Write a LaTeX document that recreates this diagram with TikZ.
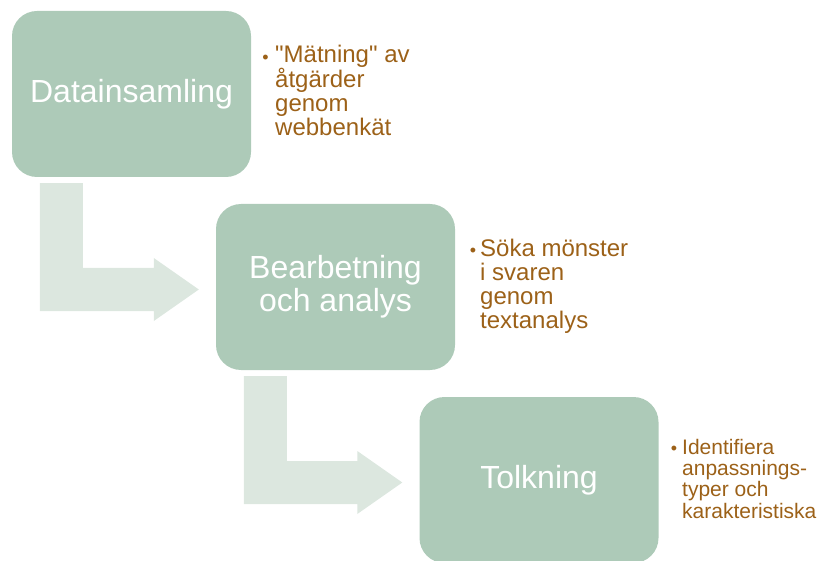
\documentclass[tikz,border=0pt]{standalone}
\usepackage{fontspec}
\setmainfont{Liberation Sans}[Ligatures=TeXOff]
\usetikzlibrary{calc}
\definecolor{boxgreen}{RGB}{173,202,184}
\definecolor{arrowgreen}{RGB}{220,231,223}
\definecolor{notebrown}{RGB}{156,97,24}
\tikzset{
	stage/.style={fill=boxgreen, rounded corners=25pt, minimum width=239pt, minimum height=166pt, inner sep=0pt, text=white, align=center, font=\fontsize{32}{33}\selectfont},
	flowarrow/.style={fill=arrowgreen},
	note/.style={text=notebrown, align=left, inner sep=0pt, anchor=base west, font=\fontsize{24}{24}\selectfont},
	dot/.style={text=notebrown, inner sep=0pt, anchor=base, font=\fontsize{18}{18}\selectfont}
}
\begin{document}
\begin{tikzpicture}[x=1pt,y=-1pt]
	\useasboundingbox (0,0) rectangle (819,561);
	\node[stage] (data) at (131.5,94) {Datainsamling};
	\node[stage] (bear) at (335.5,287) {Bearbetning\\och analys};
	\node[stage] (tolk) at (539,480) {Tolkning};
	\fill[flowarrow] ($(data.south west)+(28,6)$) coordinate (a1) -- ++(43,0) |- ($(bear.west)+(-62,-19)$) -- ++(0,-10) -- ($(bear.west)+(-17,2.5)$) -- ++(-45,31.5) -- ++(0,-10) -| (a1) -- cycle;
	\fill[flowarrow] ($(bear.south west)+(28,6)$) coordinate (a2) -- ++(43,0) |- ($(tolk.west)+(-62,-19)$) -- ++(0,-10) -- ($(tolk.west)+(-17,2.5)$) -- ++(-45,31.5) -- ++(0,-10) -| (a2) -- cycle;
	% notes: base anchor sits on the last line
	\node[dot] (b1) at (265.5,64) {•};
	\node[note] (n1) at (275,136) {"Mätning" av\\åtgärder\\genom\\webbenkät};
	\node[dot] (b2) at (473,256.5) {•};
	\node[note] (n2) at (480,328.5) {Söka mönster\\i svaren\\genom\\textanalys};
	\node[dot] (b3) at (674,454) {•};
	\node[note, font=\fontsize{21}{21.3}\selectfont] (n3) at (682,518) {Identifiera\\anpassnings-\\typer och\\karakteristiska};
\end{tikzpicture}
\end{document}
